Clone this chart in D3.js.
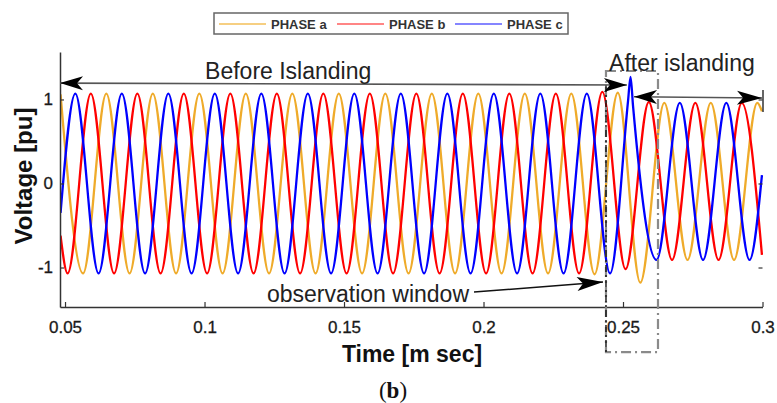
<!DOCTYPE html>
<html><head><meta charset="utf-8">
<script src="https://cdn.jsdelivr.net/npm/d3@7"></script>
<style>body{margin:0;background:#fff;} svg{display:block;}</style>
</head><body>
<svg id="chart" width="777" height="403"></svg>
<script>
// ---------- data (time in s, voltage in pu) : extrema ----------
const seriesNames = ["PHASE a", "PHASE b", "PHASE c"];
const xTicks = [0.05, 0.1, 0.15, 0.2, 0.25, 0.3];
const xTickLabels = ["0.05", "0.1", "0.15", "0.2", "0.25", "0.3"];
const yTicks = [-1, 0, 1];
const yTickLabels = ["-1", "0", "1"];

const phaseA = [[0.0484,1.06],[0.05647,-1.07],[0.06480,1.07],[0.07313,-1.07],[0.08147,1.07],[0.08980,-1.07],
  [0.09813,1.07],[0.10647,-1.07],[0.11480,1.07],[0.12313,-1.07],[0.13147,1.07],[0.13980,-1.07],[0.14813,1.07],
  [0.15647,-1.07],[0.16480,1.07],[0.17313,-1.07],[0.18147,1.07],[0.18980,-1.07],[0.19813,1.07],[0.20647,-1.07],
  [0.21480,1.07],[0.22313,-1.07],[0.23147,1.07],[0.23980,-1.08],[0.24813,1.08],[0.2562,-1.18],[0.26480,0.96],
  [0.27313,-0.91],[0.28147,0.96],[0.28980,-0.91],[0.29813,0.96],[0.2998,0.86]];

const phaseB = [[0.0484,-0.62],[0.05092,-1.07],[0.05925,1.07],[0.06758,-1.07],[0.07592,1.07],[0.08425,-1.07],
  [0.09258,1.07],[0.10092,-1.07],[0.10925,1.07],[0.11758,-1.07],[0.12592,1.07],[0.13425,-1.07],[0.14258,1.07],
  [0.15092,-1.07],[0.15925,1.07],[0.16758,-1.07],[0.17592,1.07],[0.18425,-1.07],[0.19258,1.07],[0.20092,-1.07],
  [0.20925,1.07],[0.21758,-1.07],[0.22592,1.07],[0.23425,-1.07],[0.24258,1.09],[0.25092,-1.02],[0.25925,0.97],
  [0.26758,-0.91],[0.27592,0.96],[0.28425,-0.91],[0.29258,0.96],[0.2998,-0.85]];

const phaseC = [[0.0484,-0.35],[0.05369,1.07],[0.06203,-1.07],[0.07036,1.07],[0.07869,-1.07],[0.08703,1.07],
  [0.09536,-1.07],[0.10369,1.07],[0.11203,-1.07],[0.12036,1.07],[0.12869,-1.07],[0.13703,1.07],[0.14536,-1.07],
  [0.15369,1.07],[0.16203,-1.07],[0.17036,1.07],[0.17869,-1.07],[0.18703,1.07],[0.19536,-1.07],[0.20369,1.07],
  [0.21203,-1.07],[0.22036,1.07],[0.22869,-1.07],[0.23703,1.07],[0.24536,-1.07],[0.2518,0.98],[0.2527,1.27],
  [0.2536,0.92],[0.26203,-0.91],[0.27036,0.96],[0.27869,-0.91],[0.28703,0.96],[0.29536,-0.91],[0.2998,0.1]];

const series = [phaseA, phaseB, phaseC];

// ---------- styles ----------
const colors = ["#efab2a", "#ff0000", "#0000ff"];
const legendColors = ["#f6cf82", "#ff8585", "#8585ff"];
const sans = "'Liberation Sans', Arial, Helvetica, sans-serif";

const svg = d3.select("#chart");
const x = d3.scaleLinear().domain([0.0482, 0.3]).range([60, 762.5]);
const y = d3.scaleLinear().domain([-1.47, 1.565]).range([307, 52]);

svg.append("defs").append("clipPath").attr("id", "plotclip")
  .append("rect").attr("x", x(0.0482)).attr("y", y(1.565))
  .attr("width", x(0.3) - x(0.0482) + 1).attr("height", y(-1.47) - y(1.565));

// ---------- curves ----------
const line = d3.line().x(d => x(d[0])).y(d => y(d[1])).curve(d3.curveMonotoneX);
const plot = svg.append("g").attr("clip-path", "url(#plotclip)");
series.forEach((s, i) => {
  plot.append("path").datum(s).attr("d", line)
    .attr("fill", "none").attr("stroke", colors[i]).attr("stroke-width", 2.3)
    .attr("stroke-linejoin", "round");
});

// ---------- axes ----------
const xAxis = d3.axisBottom(x).tickValues(xTicks)
  .tickFormat((d, i) => xTickLabels[i]).tickSizeInner(-5).tickSizeOuter(0).tickPadding(14);
const gx = svg.append("g").attr("transform", `translate(0,${y(-1.47)})`).call(xAxis);
gx.select(".domain").attr("stroke", "#333").attr("stroke-width", 1.5);
gx.selectAll(".tick line").attr("stroke", "#333").attr("stroke-width", 1.2);
gx.selectAll("text").attr("font-family", sans).attr("font-size", 17).attr("fill", "#1a1a1a")
  .attr("stroke", "#1a1a1a").attr("stroke-width", 0.3);

const yAxis = d3.axisLeft(y).tickValues(yTicks)
  .tickFormat((d, i) => yTickLabels[i]).tickSizeInner(-4).tickSizeOuter(0).tickPadding(7);
const gy = svg.append("g").attr("transform", `translate(${x(0.0482)},0)`).call(yAxis);
gy.select(".domain").attr("stroke", "#333").attr("stroke-width", 1.5);
gy.selectAll(".tick line").attr("stroke", "#333").attr("stroke-width", 1.2);
gy.selectAll("text").attr("font-family", sans).attr("font-size", 17).attr("fill", "#1a1a1a")
  .attr("stroke", "#1a1a1a").attr("stroke-width", 0.3);

const yAxisR = d3.axisRight(y).tickValues(yTicks).tickFormat("").tickSizeInner(-4).tickSizeOuter(0);
const gyr = svg.append("g").attr("transform", `translate(${x(0.3)},0)`).call(yAxisR);
gyr.select(".domain").remove();
gyr.selectAll(".tick line").attr("stroke", "#333").attr("stroke-width", 1.2);

// axis titles
svg.append("text").attr("x", 412).attr("y", 362).attr("text-anchor", "middle")
  .attr("font-family", sans).attr("font-weight", "bold").attr("font-size", 23).attr("fill", "#111")
  .text("Time [m sec]");
svg.append("text").attr("transform", "translate(32,176) rotate(-90)").attr("text-anchor", "middle")
  .attr("font-family", sans).attr("font-weight", "bold").attr("font-size", 24).attr("fill", "#111")
  .text("Voltage [pu]");

// caption
const cap = svg.append("text").attr("x", 393).attr("y", 398).attr("text-anchor", "middle")
  .attr("font-family", "'Liberation Serif', 'DejaVu Serif', serif").attr("font-size", 23).attr("fill", "#111");
cap.append("tspan").text("(");
cap.append("tspan").attr("font-weight", "bold").text("b");
cap.append("tspan").text(")");

// ---------- legend ----------
const lg = svg.append("g");
lg.append("rect").attr("x", 214).attr("y", 13).attr("width", 354).attr("height", 21)
  .attr("fill", "#fff").attr("stroke", "#666").attr("stroke-width", 1.5);
const legX = [219, 337, 455];
seriesNames.forEach((n, i) => {
  lg.append("line").attr("x1", legX[i]).attr("x2", legX[i] + 47).attr("y1", 24).attr("y2", 24)
    .attr("stroke", legendColors[i]).attr("stroke-width", 2);
  lg.append("text").attr("x", legX[i] + 52).attr("y", 29.3)
    .attr("font-family", sans).attr("font-weight", "bold").attr("font-size", 13).attr("fill", "#333")
    .text(n);
});

// ---------- annotations ----------
function arrowHead(g, tip, from, len, halfW, notch, fill) {
  const dx = tip[0] - from[0], dy = tip[1] - from[1];
  const L = Math.hypot(dx, dy), ux = dx / L, uy = dy / L, px = -uy, py = ux;
  const bx = tip[0] - ux * len, by = tip[1] - uy * len;
  const nx = tip[0] - ux * (len - notch), ny = tip[1] - uy * (len - notch);
  g.append("path")
    .attr("d", `M${tip[0]},${tip[1]}L${bx + px * halfW},${by + py * halfW}L${nx},${ny}L${bx - px * halfW},${by - py * halfW}Z`)
    .attr("fill", fill || "#000");
}
const ann = svg.append("g");
const P = (t, v) => [x(t), y(v)];

// dashed observation rectangle
const rL = 0.2439, rR = 0.26254, rT = 1.339, rB = -2.006;
ann.append("rect").attr("x", x(rL)).attr("y", y(rT)).attr("width", x(rR) - x(rL)).attr("height", y(rB) - y(rT))
  .attr("fill", "none").attr("stroke", "#8a8a8a").attr("stroke-width", 2.2).attr("stroke-dasharray", "10,4,2,4");
ann.append("line").attr("x1", x(rL)).attr("x2", x(rL)).attr("y1", y(1.173)).attr("y2", y(rB))
  .attr("stroke", "#111").attr("stroke-width", 1.4).attr("stroke-dasharray", "7,3,2,3");

// Before Islanding
const bA = P(0.0482, 1.195), bB = P(0.2514, 1.172);
ann.append("line").attr("x1", bA[0]).attr("y1", bA[1]).attr("x2", bB[0]).attr("y2", bB[1])
  .attr("stroke", "#555").attr("stroke-width", 1.6);
arrowHead(ann, bA, bB, 23, 7, 6);
arrowHead(ann, bB, bA, 23, 7, 6);
ann.append("text").attr("x", x(0.1002)).attr("y", y(1.238))
  .attr("font-family", sans).attr("font-size", 23).attr("fill", "#222").text("Before Islanding");

// After islanding
const aA = P(0.25394, 1.033), aB = P(0.29982, 1.018);
ann.append("line").attr("x1", aA[0]).attr("y1", aA[1]).attr("x2", aB[0]).attr("y2", aB[1])
  .attr("stroke", "#555").attr("stroke-width", 1.6);
arrowHead(ann, aA, aB, 23, 7, 6);
arrowHead(ann, aB, aA, 25, 7, 6);
ann.append("line").attr("x1", x(0.3) + 0.5).attr("x2", x(0.3) + 0.5).attr("y1", y(1.113)).attr("y2", y(0.851))
  .attr("stroke", "#333").attr("stroke-width", 1.5);
ann.append("text").attr("x", x(0.2450)).attr("y", y(1.339))
  .attr("font-family", sans).attr("font-size", 23).attr("fill", "#222").text("After islanding");

// observation window
const oA = P(0.1966, -1.292), oB = P(0.24283, -1.173);
ann.append("line").attr("x1", oA[0]).attr("y1", oA[1]).attr("x2", oB[0]).attr("y2", oB[1])
  .attr("stroke", "#111").attr("stroke-width", 1.5);
arrowHead(ann, oB, oA, 26, 7, 6);
ann.append("text").attr("x", x(0.1224)).attr("y", y(-1.41))
  .attr("font-family", sans).attr("font-size", 23).attr("fill", "#222").text("observation window");
</script>
</body></html>
